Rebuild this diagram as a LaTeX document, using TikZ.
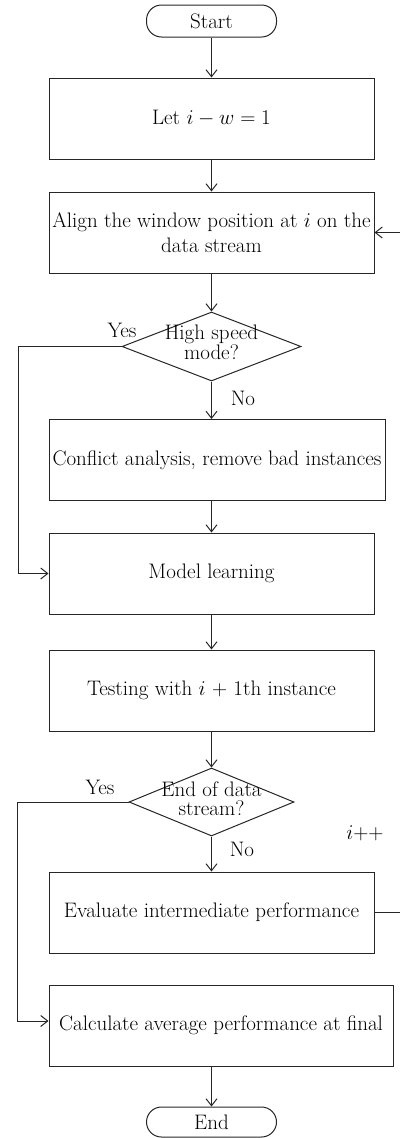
\RequirePackage{fix-cm}
\documentclass[tikz,border=0pt]{standalone}
\usepackage{fontspec}
\usepackage{tikz}
\usepackage{amsmath}
\usetikzlibrary{shapes.geometric,arrows.meta}
\newcommand{\flowFont}{\fontsize{21}{25}\selectfont}
\newcommand{\flowTightFont}{\fontsize{21}{19}\selectfont}
\tikzset{
  flowLine/.style={line width=1pt, draw=black!85},
  flowBox/.style={flowLine, rectangle, minimum width=325pt, minimum height=81pt, inner sep=0pt, align=center},
  flowTerm/.style={flowLine, rectangle, rounded corners=15pt, minimum width=130pt, minimum height=32pt, inner sep=0pt},
  flowDecision/.style={flowLine, diamond, inner sep=0pt},
  flowArrow/.style={flowLine, -{Straight Barb[length=7pt,width=11pt]}},
  flowLabel/.style={inner sep=0pt},
}

\begin{document}
\begin{tikzpicture}[x=1pt,y=-1pt,font=\flowFont]
\useasboundingbox (0,0) rectangle (399,1138);
% main column
\node[flowTerm] (start) at (211.5,21) {Start};
\node[flowBox] (init) at (211.5,118.5) {Let $i - w = 1$};
\node[flowBox] (align) at (211.5,232.5) {Align the window position at $i$ on the\\data stream};
\node[flowDecision, minimum width=179pt, minimum height=69pt] (speed) at (211.5,346.5) {};
\node[flowLabel, align=center, font=\flowTightFont] (speedtext) at ([yshift=4pt]speed.center) {High speed\\mode?};
\node[flowBox, minimum width=336pt] (conflict) at (217,460) {Conflict analysis, remove bad instances};
\node[flowBox] (model) at (211.5,573.5) {Model learning};
\node[flowBox] (test) at (211.5,690.5) {Testing with $i$ + 1th instance};
\node[flowDecision, minimum width=165pt, minimum height=68pt] (stream) at (211.5,802) {};
\node[flowLabel, align=center, font=\flowTightFont] (streamtext) at ([yshift=3pt]stream.center) {End of data\\stream?};
\node[flowBox] (evaluate) at (211.5,912.5) {Evaluate intermediate performance};
\node[flowBox, minimum width=344pt] (final) at (221,1025.5) {Calculate average performance at final};
\node[flowTerm, minimum height=30pt] (end) at (211.5,1122) {End};
% labels
\node[flowLabel] (speedyes) at (122,330) {Yes};
\node[flowLabel] (speedno) at (243,398) {No};
\node[flowLabel] (streamyes) at (100,787) {Yes};
\node[flowLabel] (streamno) at (242,849) {No};
\node[flowLabel] (incr) at (365,833) {$i{+}{+}$};
% bends
\coordinate (speedbend) at (18,346.5);
\coordinate (streambend) at (17,802);
\coordinate (loopbend) at (400.5,912.5);
% connectors
\draw[flowArrow] (start) -- (init);
\draw[flowArrow] (init) -- (align);
\draw[flowArrow] (align) -- (speed);
\draw[flowArrow] (speed.south) -- (speed.south |- conflict.north);
\draw[flowArrow] (conflict.south -| model.north) -- (model.north);
\draw[flowArrow] (model) -- (test);
\draw[flowArrow] (test) -- (stream);
\draw[flowArrow] (stream) -- (evaluate);
\draw[flowArrow] (final.south -| end.north) -- (end.north);
\draw[flowArrow] (speed.west) -- (speedbend) |- (model.west);
\draw[flowArrow] (stream.west) -- (streambend) |- ([yshift=4.5pt]final.west);
\draw[flowArrow] (evaluate.east) -- (loopbend) |- (align.east);
\end{tikzpicture}
\end{document}
